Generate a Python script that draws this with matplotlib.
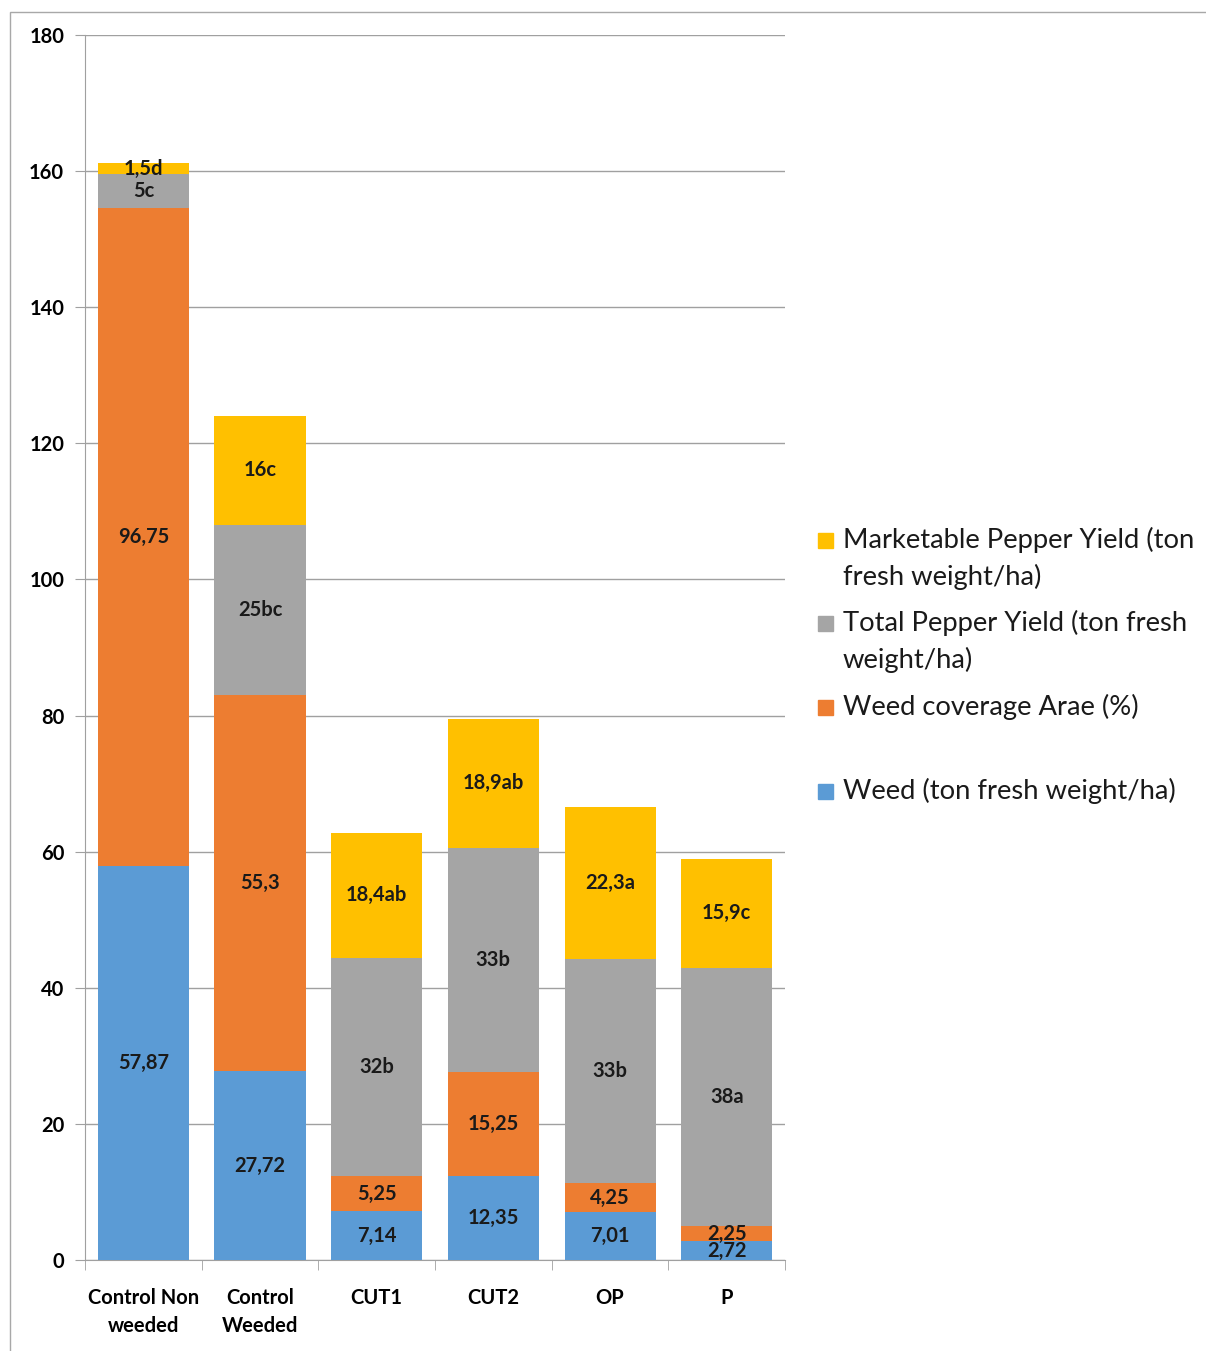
import matplotlib
matplotlib.use("Agg")
import matplotlib.pyplot as plt
import matplotlib.patches as mpatches
import numpy as np

plt.rcParams['font.family'] = ['Lato', 'DejaVu Sans']

categories = ["Control Non\nweeded", "Control\nWeeded", "CUT1", "CUT2", "OP", "P"]
weed = [57.87, 27.72, 7.14, 12.35, 7.01, 2.72]
coverage = [96.75, 55.3, 5.25, 15.25, 4.25, 2.25]
total_yield = [5, 25, 32, 33, 33, 38]
market_yield = [1.5, 16, 18.4, 18.9, 22.3, 15.9]

weed_lbl = ["57,87", "27,72", "7,14", "12,35", "7,01", "2,72"]
coverage_lbl = ["96,75", "55,3", "5,25", "15,25", "4,25", "2,25"]
total_lbl = ["5c", "25bc", "32b", "33b", "33b", "38a"]
market_lbl = ["1,5d", "16c", "18,4ab", "18,9ab", "22,3a", "15,9c"]

series_names = ["Weed (ton fresh weight/ha)",
                "Weed coverage Arae (%)",
                "Total Pepper Yield (ton fresh\nweight/ha)",
                "Marketable Pepper Yield (ton\nfresh weight/ha)"]
colors = ["#5B9BD5", "#ED7D31", "#A5A5A5", "#FFC000"]

W, H = 1206, 1351
fig = plt.figure(figsize=(W / 100, H / 100), dpi=100)
ax = fig.add_axes([85 / W, (H - 1260) / H, 700 / W, 1225 / H])

x = np.arange(len(categories))
bottom = np.zeros(len(categories))
for vals, lbls, c in zip([weed, coverage, total_yield, market_yield],
                         [weed_lbl, coverage_lbl, total_lbl, market_lbl], colors):
    vals = np.array(vals, dtype=float)
    ax.bar(x, vals, 0.78, bottom=bottom, color=c, zorder=3)
    for xi, b, v, t in zip(x, bottom, vals, lbls):
        ax.text(xi, b + v / 2, t, ha='center', va='center', fontsize=14.5,
                fontweight='bold', color='#1a1a1a', zorder=4)
    bottom += vals

ax.set_xlim(-0.5, len(categories) - 0.5)
ax.set_ylim(0, 180)
ax.set_yticks(np.arange(0, 181, 20))
ax.yaxis.grid(True, color='#a0a0a0', lw=1, zorder=0)
ax.set_xticks(x)
ax.set_xticklabels(categories, fontsize=14.5, fontweight='bold', linespacing=1.52)
ax.set_xticks(np.arange(-0.5, len(categories)), minor=True)
ax.tick_params(axis='x', which='major', length=0, pad=20)
ax.tick_params(axis='x', which='minor', length=7, color='#a0a0a0')
ax.tick_params(axis='y', length=7, color='#a0a0a0', labelsize=14.5, pad=8)
for lab in ax.get_yticklabels():
    lab.set_fontweight('bold')
for s in ['top', 'right']:
    ax.spines[s].set_visible(False)
for s in ['left', 'bottom']:
    ax.spines[s].set_color('#a0a0a0')

# legend drawn by hand, entries top to bottom (marker on first line)
leg_y = [540, 623, 707, 791]
line_step = 37
for yy, name, c in zip(leg_y, series_names[::-1], colors[::-1]):
    n = name.count("\n") + 1
    fig.patches.append(mpatches.Rectangle((818 / W, (H - yy - 8) / H), 15 / W, 15 / H,
                                          transform=fig.transFigure, color=c))
    yc = yy + (n - 1) * line_step / 2
    fig.text(843 / W, (H - yc) / H, name, ha='left', va='center', fontsize=19.7,
             linespacing=1.5, color='#1a1a1a')

# outer frame
fig.patches.append(mpatches.Rectangle((10 / W, -0.05), 1.2, (H - 12) / H + 0.05,
                                      transform=fig.transFigure, fill=False,
                                      ec='#a8a8a8', lw=1))

fig.savefig("out.png", dpi=100)
